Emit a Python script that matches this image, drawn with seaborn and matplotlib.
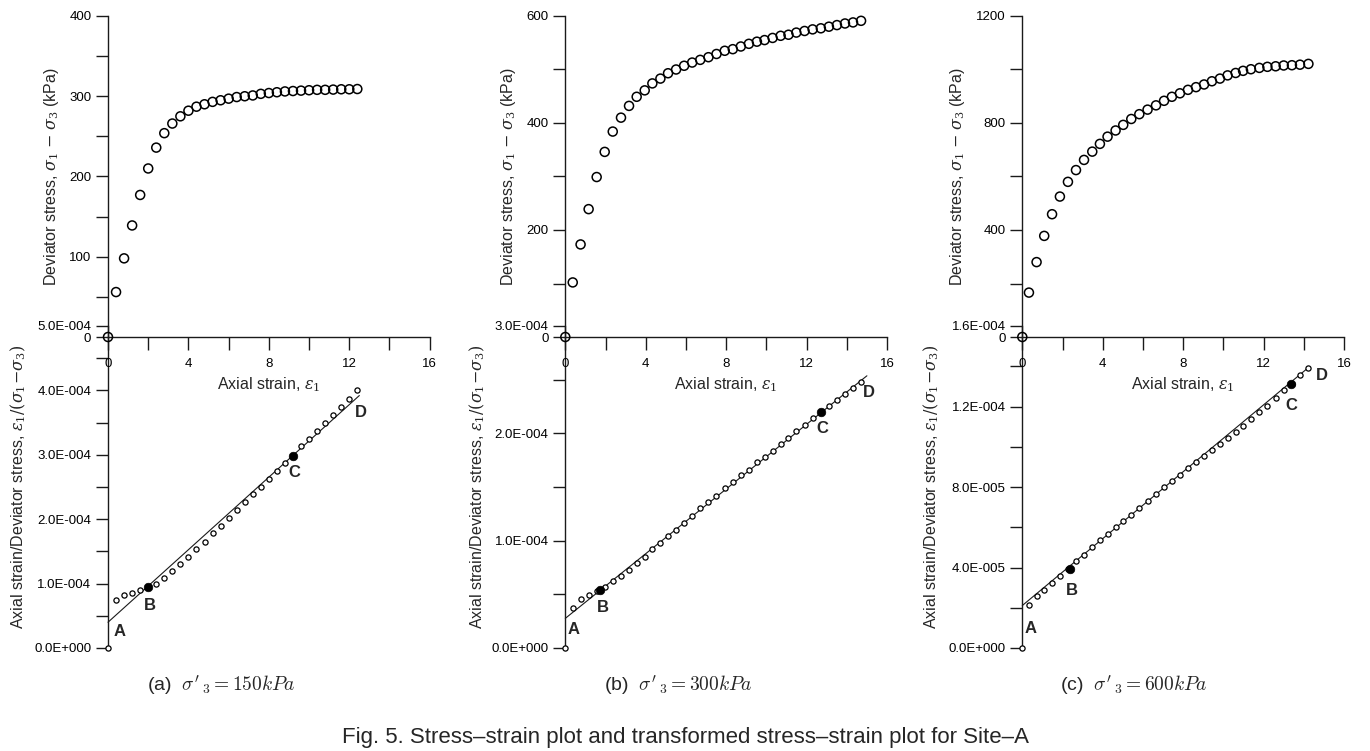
"""
Fig. 5 - stress-strain and transformed (hyperbolic) stress-strain plots, Site-A
Three panels, each one an upper stress-strain axes and a lower
strain/stress axes sharing the strain axis in the middle.
"""

import matplotlib
matplotlib.use("Agg")
import matplotlib.pyplot as plt
from matplotlib.ticker import MultipleLocator, FuncFormatter, NullFormatter
import seaborn as sns

# ─────────────────────────────────────────────
# DATA
# ─────────────────────────────────────────────
# (a) sigma'3 = 150 kPa
strain_a = [0.0, 0.4, 0.8, 1.2, 1.6, 2.0, 2.4, 2.8, 3.2, 3.6, 4.0, 4.4, 4.8, 5.2, 5.6, 6.0,
            6.4, 6.8, 7.2, 7.6, 8.0, 8.4, 8.8, 9.2, 9.6, 10.0, 10.4, 10.8, 11.2, 11.6, 12.0, 12.4]
stress_a = [0, 56, 98, 139, 177, 210, 236, 254, 266, 275, 282, 287, 290, 293, 295, 297,
            299, 300, 301, 303, 304, 305, 306, 306.5, 307, 307.5, 308, 308, 308.3, 308.7, 308.7, 309]
ratio_a = [0, 0.75, 0.82, 0.86, 0.90, 0.94, 1.00, 1.09, 1.19, 1.30, 1.41, 1.53, 1.65, 1.78, 1.90, 2.02,
           2.15, 2.26, 2.39, 2.50, 2.63, 2.75, 2.88, 2.98, 3.13, 3.25, 3.37, 3.50, 3.62, 3.74, 3.87, 4.00]  # x1e-4
fit_x_a = [0.0, 12.5]
fit_y_a = [0.40, 3.92]      # x1e-4
bc_x_a = [2.0, 9.2]
bc_y_a = [0.94, 2.98]       # x1e-4

# (b) sigma'3 = 300 kPa
strain_b = [0.0, 0.37, 0.76, 1.16, 1.56, 1.96, 2.36, 2.77, 3.17, 3.55, 3.95, 4.33, 4.73, 5.11, 5.51,
            5.91, 6.31, 6.71, 7.12, 7.52, 7.93, 8.33, 8.73, 9.13, 9.53, 9.91, 10.31, 10.71, 11.10,
            11.49, 11.90, 12.30, 12.71, 13.11, 13.51, 13.91, 14.31, 14.71]
stress_b = [0, 102, 173, 239, 299, 346, 384, 410, 432, 449, 461, 474, 483, 493, 500, 507, 513, 518, 523,
            529, 535, 538, 543, 548, 552, 555, 559, 563, 565, 569, 572, 575, 577, 580, 583,
            586, 588, 591]
ratio_b = [0, 0.37, 0.46, 0.49, 0.53, 0.57, 0.62, 0.67, 0.73, 0.79, 0.85, 0.92, 0.98, 1.04, 1.10, 1.16,
           1.23, 1.30, 1.36, 1.42, 1.49, 1.55, 1.61, 1.66, 1.73, 1.78, 1.84, 1.90, 1.96, 2.02, 2.08,
           2.14, 2.20, 2.25, 2.31, 2.37, 2.42, 2.48]  # x1e-4
fit_x_b = [0.0, 15.0]
fit_y_b = [0.276, 2.536]    # x1e-4
bc_x_b = [1.73, 12.71]
bc_y_b = [0.539, 2.195]     # x1e-4

# (c) sigma'3 = 600 kPa
strain_c = [0.0, 0.33, 0.71, 1.09, 1.48, 1.87, 2.27, 2.67, 3.07, 3.48, 3.86, 4.24, 4.64, 5.02, 5.42,
            5.82, 6.23, 6.65, 7.05, 7.44, 7.84, 8.24, 8.64, 9.04, 9.43, 9.83, 10.21, 10.61, 10.98,
            11.37, 11.79, 12.19, 12.60, 13.00, 13.41, 13.81, 14.23]
stress_c = [0, 166, 280, 378, 459, 525, 580, 624, 662, 693, 722, 749, 772, 793, 815, 833, 850, 866, 883,
            898, 911, 924, 934, 944, 956, 966, 978, 987, 995, 1001, 1006, 1010, 1012, 1015, 1016,
            1018, 1021]
ratio_c = [0, 2.12, 2.57, 2.89, 3.22, 3.58, 3.95, 4.31, 4.64, 5.01, 5.36, 5.67, 6.00, 6.33, 6.63, 6.98,
           7.30, 7.64, 7.98, 8.29, 8.61, 8.92, 9.22, 9.53, 9.85, 10.15, 10.45, 10.74, 11.04, 11.37,
           11.71, 12.04, 12.42, 12.82, 13.12, 13.56, 13.91]  # x1e-5
fit_x_c = [0.0, 14.26]
fit_y_c = [2.11, 13.96]     # x1e-5
bc_x_c = [2.35, 13.35]
bc_y_c = [3.95, 13.13]      # x1e-5

captions = ["(a)  $\\sigma'_{\\,3} = 150kPa$",
            "(b)  $\\sigma'_{\\,3} = 300kPa$",
            "(c)  $\\sigma'_{\\,3} = 600kPa$"]
fig_caption = "Fig. 5. Stress\u2013strain plot and transformed stress\u2013strain plot for Site\u2013A"

# ─────────────────────────────────────────────
# LAYOUT / STYLE
# ─────────────────────────────────────────────
W, H = 1370, 751
PANELS = [
    # left px, scale of ratio data, upper ylim/major, lower ylim/major, label coords
    dict(left=108.0, scale=1e-4, up_max=400, up_major=100, lo_max=5e-4, lo_major=1e-4,
         up_lab=-0.177, lo_lab=-0.28, cap_x=221,
         abcd=[(0.58, 0.26), (2.07, 0.66), (9.29, 2.73), (12.57, 3.65)]),
    dict(left=565.3, scale=1e-4, up_max=600, up_major=200, lo_max=3e-4, lo_major=1e-4,
         up_lab=-0.177, lo_lab=-0.275, cap_x=678,
         abcd=[(0.40, 0.173), (1.89, 0.381), (12.76, 2.046), (15.09, 2.378)]),
    dict(left=1022.3, scale=1e-5, up_max=1200, up_major=400, lo_max=1.6e-4, lo_major=4e-5,
         up_lab=-0.2, lo_lab=-0.284, cap_x=1134,
         abcd=[(0.41, 0.96), (2.45, 2.85), (13.40, 12.05), (14.92, 13.55)]),
]
AX_W = 321.7
UP_BOT, UP_TOP = 337.0, 16.0
LO_BOT, LO_TOP = 648.0, 326.0
INK = "#1a1a1a"
TICK_LEN = 9.0

sns.set_style("ticks")
plt.rcParams["font.family"] = ["Liberation Sans", "DejaVu Sans"]
plt.rcParams["mathtext.fontset"] = "dejavuserif"
plt.rcParams["axes.edgecolor"] = INK
plt.rcParams["axes.linewidth"] = 1.0


def sci_fmt(v, pos=None):
    """1.0E-004 style labels (3-digit exponent)."""
    if abs(v) < 1e-12:
        return "0.0E+000"
    mant, exp = f"{v:.1E}".split("E")
    return f"{mant}E{int(exp):+04d}"


def style_ticks(ax, axis):
    ax.tick_params(axis=axis, which="both", direction="out", length=TICK_LEN, width=1.0,
                   color=INK, labelsize=9.5, labelcolor="black", pad=3)


# ─────────────────────────────────────────────
# FIGURE
# ─────────────────────────────────────────────
fig = plt.figure(figsize=(W / 100, H / 100), dpi=100)

series = [
    (strain_a, stress_a, ratio_a, fit_x_a, fit_y_a, bc_x_a, bc_y_a),
    (strain_b, stress_b, ratio_b, fit_x_b, fit_y_b, bc_x_b, bc_y_b),
    (strain_c, stress_c, ratio_c, fit_x_c, fit_y_c, bc_x_c, bc_y_c),
]

for cfg, (strain, stress, ratio, fx, fy, bx, by), cap in zip(PANELS, series, captions):
    sc = cfg["scale"]
    ratio_v = [r * sc for r in ratio]
    fy_v = [v * sc for v in fy]
    by_v = [v * sc for v in by]

    # lower axes: strain / deviator stress
    ax_lo = fig.add_axes([cfg["left"] / W, (H - LO_BOT) / H, AX_W / W, (LO_BOT - LO_TOP) / H])
    ax_lo.set_facecolor("none")
    sns.lineplot(x=fx, y=fy_v, ax=ax_lo, color=INK, linewidth=0.8, clip_on=False)
    sns.scatterplot(x=strain, y=ratio_v, ax=ax_lo, s=14, facecolor="white", edgecolor="black",
                    linewidth=0.9, clip_on=False, zorder=3)
    sns.scatterplot(x=bx, y=by_v, ax=ax_lo, s=38, color="black", edgecolor="black",
                    linewidth=0.5, clip_on=False, zorder=4)
    for (tx, ty), lab in zip(cfg["abcd"], "ABCD"):
        ax_lo.text(tx, ty * sc, lab, ha="center", va="center", fontsize=12, fontweight="bold")
    ax_lo.set_xlim(0, 16)
    ax_lo.set_ylim(0, cfg["lo_max"])
    ax_lo.yaxis.set_major_locator(MultipleLocator(cfg["lo_major"]))
    ax_lo.yaxis.set_minor_locator(MultipleLocator(cfg["lo_major"] / 2))
    ax_lo.yaxis.set_major_formatter(FuncFormatter(sci_fmt))
    ax_lo.yaxis.set_minor_formatter(NullFormatter())
    ax_lo.set_xticks([])
    for side in ("top", "right", "bottom"):
        ax_lo.spines[side].set_visible(False)
    style_ticks(ax_lo, "y")
    ax_lo.set_ylabel(r"Axial strain/Deviator stress, $\varepsilon_1/(\sigma_1\!-\!\sigma_3)$",
                     fontsize=11.5, va="center")
    ax_lo.yaxis.set_label_coords(cfg["lo_lab"], 0.5)

    # upper axes: deviator stress vs axial strain
    ax_up = fig.add_axes([cfg["left"] / W, (H - UP_BOT) / H, AX_W / W, (UP_BOT - UP_TOP) / H])
    ax_up.set_facecolor("none")
    sns.scatterplot(x=strain, y=stress, ax=ax_up, s=42, facecolor="none", edgecolor="black",
                    linewidth=1.1, clip_on=False, zorder=3)
    ax_up.set_xlim(0, 16)
    ax_up.set_ylim(0, cfg["up_max"])
    ax_up.xaxis.set_major_locator(MultipleLocator(4))
    ax_up.xaxis.set_minor_locator(MultipleLocator(2))
    ax_up.yaxis.set_major_locator(MultipleLocator(cfg["up_major"]))
    ax_up.yaxis.set_minor_locator(MultipleLocator(cfg["up_major"] / 2))
    for side in ("top", "right"):
        ax_up.spines[side].set_visible(False)
    style_ticks(ax_up, "both")
    ax_up.tick_params(axis="x", which="both", pad=6)
    ax_up.set_xlabel(r"Axial strain, $\varepsilon_1$", fontsize=11.5, va="center")
    ax_up.xaxis.set_label_coords(0.5, -0.15)
    ax_up.set_ylabel(r"Deviator stress, $\sigma_1$ $-$ $\sigma_3$ (kPa)", fontsize=11.5, va="center")
    ax_up.yaxis.set_label_coords(cfg["up_lab"], 0.5)

    fig.text(cfg["cap_x"] / W, (H - 685) / H, cap, ha="center", va="center", fontsize=14,
             math_fontfamily="cm")

fig.text(0.5, (H - 738) / H, fig_caption, ha="center", va="center", fontsize=16)

fig.savefig("out.png", dpi=100)
